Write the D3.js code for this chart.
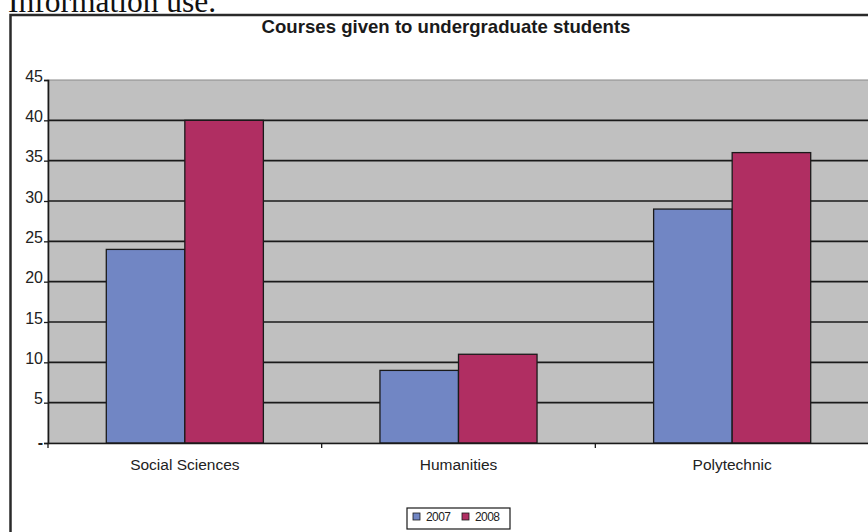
<!DOCTYPE html>
<html lang="en">
<head>
<meta charset="utf-8">
<script src="https://d3js.org/d3.v7.min.js"></script>
<style>
  body { margin: 0; background: #fff; }
  svg { display: block; }
</style>
</head>
<body>
<script>
// data
var categories = ["Social Sciences", "Humanities", "Polytechnic"];
var years = ["2007", "2008"];
var values2007 = [24, 9, 29];
var values2008 = [40, 11, 36];
var yTicks = [0, 5, 10, 15, 20, 25, 30, 35, 40, 45];

var colors = { "2007": "#7186c4", "2008": "#b02e62" };

var width = 868, height = 532;

var rows = categories.map(function(c, i) {
    return { cat: c, "2007": values2007[i], "2008": values2008[i] };
});

var svg = d3.select("body").append("svg")
    .attr("width", width)
    .attr("height", height);

// text of the page above the chart, cut off at the top like in the scan
svg.append("text")
    .attr("x", 8)
    .attr("y", 12)
    .style("font-family", "'Liberation Serif', 'Times New Roman', serif")
    .style("font-size", "31.5px")
    .attr("fill", "#111")
    .text("Information use.");

// chart frame
svg.append("rect")
    .attr("x", 10.5)
    .attr("y", 15)
    .attr("width", 872)
    .attr("height", 540)
    .attr("fill", "#fff")
    .attr("stroke", "#2a2a2a")
    .attr("stroke-width", 2.5);

svg.append("text")
    .attr("x", 446)
    .attr("y", 33)
    .attr("text-anchor", "middle")
    .style("font-family", "'Liberation Sans', Arial, sans-serif")
    .style("font-size", "18.6px")
    .style("font-weight", "bold")
    .attr("fill", "#1a1a1a")
    .text("Courses given to undergraduate students");

var x0 = d3.scaleBand()
    .domain(categories)
    .range([48, 869]);

var x1 = d3.scaleBand()
    .domain(years)
    .range([x0.bandwidth() * 0.213, x0.bandwidth() * 0.787]);

var y = d3.scaleLinear()
    .domain([0, 45])
    .range([443, 80]);

// plot area
svg.append("rect")
    .attr("x", x0.range()[0])
    .attr("y", y(45))
    .attr("width", x0.range()[1] - x0.range()[0])
    .attr("height", y(0) - y(45))
    .attr("fill", "#c0c0c0")
    .attr("stroke", "#8a8a8a")
    .attr("stroke-width", 1);

// gridlines
svg.append("g")
    .selectAll("line")
    .data(yTicks.filter(function(d) { return d > 0 && d < 45; }))
    .enter().append("line")
    .attr("x1", x0.range()[0])
    .attr("x2", x0.range()[1])
    .attr("y1", function(d) { return y(d); })
    .attr("y2", function(d) { return y(d); })
    .attr("stroke", "#1a1a1a")
    .attr("stroke-width", 1.6);

// bars
svg.append("g")
    .selectAll("g")
    .data(rows)
    .enter().append("g")
    .attr("transform", function(d) { return "translate(" + x0(d.cat) + ",0)"; })
    .selectAll("rect")
    .data(function(d) { return years.map(function(k) { return { key: k, value: d[k] }; }); })
    .enter().append("rect")
    .attr("x", function(d) { return x1(d.key); })
    .attr("y", function(d) { return y(d.value); })
    .attr("width", x1.bandwidth())
    .attr("height", function(d) { return y(0) - y(d.value); })
    .attr("fill", function(d) { return colors[d.key]; })
    .attr("stroke", "#1a1a1a")
    .attr("stroke-width", 1.3);

// y axis
var yAxis = svg.append("g")
    .attr("transform", "translate(48,0)")
    .call(d3.axisLeft(y)
        .tickValues(yTicks)
        .tickSize(4)
        .tickPadding(1)
        .tickFormat(function(d) { return d === 0 ? "-" : d; }));
yAxis.select(".domain").attr("stroke", "#1a1a1a").attr("stroke-width", 1.6);
yAxis.selectAll(".tick line").attr("stroke", "#1a1a1a").attr("stroke-width", 1.3);
yAxis.selectAll(".tick text")
    .attr("dy", "0.08em")
    .attr("fill", "#222")
    .style("font-family", "'Liberation Sans', Arial, sans-serif")
    .style("font-size", "16px");
yAxis.selectAll(".tick text").filter(function(d) { return d === 0; })
    .style("font-weight", "bold")
    .attr("dy", "0.3em");

// x axis
var xAxis = svg.append("g")
    .attr("transform", "translate(0," + y(0) + ")")
    .call(d3.axisBottom(x0).tickSize(0).tickPadding(16));
xAxis.select(".domain").attr("stroke", "#1a1a1a").attr("stroke-width", 1.6);
xAxis.selectAll(".tick text")
    .attr("fill", "#222")
    .style("font-family", "'Liberation Sans', Arial, sans-serif")
    .style("font-size", "15.5px");

// category separators
svg.append("g")
    .selectAll("line")
    .data(categories)
    .enter().append("line")
    .attr("x1", function(d) { return x0(d); })
    .attr("x2", function(d) { return x0(d); })
    .attr("y1", y(0))
    .attr("y2", y(0) + 5)
    .attr("stroke", "#1a1a1a")
    .attr("stroke-width", 1.3);

// legend
var legend = svg.append("g").attr("transform", "translate(407,508)");
legend.append("rect")
    .attr("width", 103)
    .attr("height", 21)
    .attr("fill", "#fff")
    .attr("stroke", "#1a1a1a")
    .attr("stroke-width", 1.2);
var item = legend.selectAll(".item")
    .data(years)
    .enter().append("g")
    .attr("class", "item")
    .attr("transform", function(d, i) { return "translate(" + (6 + i * 49) + ",0)"; });
item.append("rect")
    .attr("y", 5)
    .attr("width", 7)
    .attr("height", 7)
    .attr("fill", function(d) { return colors[d]; })
    .attr("stroke", "#1a1a1a")
    .attr("stroke-width", 0.8);
item.append("text")
    .attr("x", 13)
    .attr("y", 13)
    .attr("fill", "#222")
    .style("font-family", "'Liberation Sans Narrow', 'Liberation Sans', Arial, sans-serif")
    .style("font-size", "12px")
    .style("letter-spacing", "-0.6px")
    .text(function(d) { return d; });
</script>
</body>
</html>
